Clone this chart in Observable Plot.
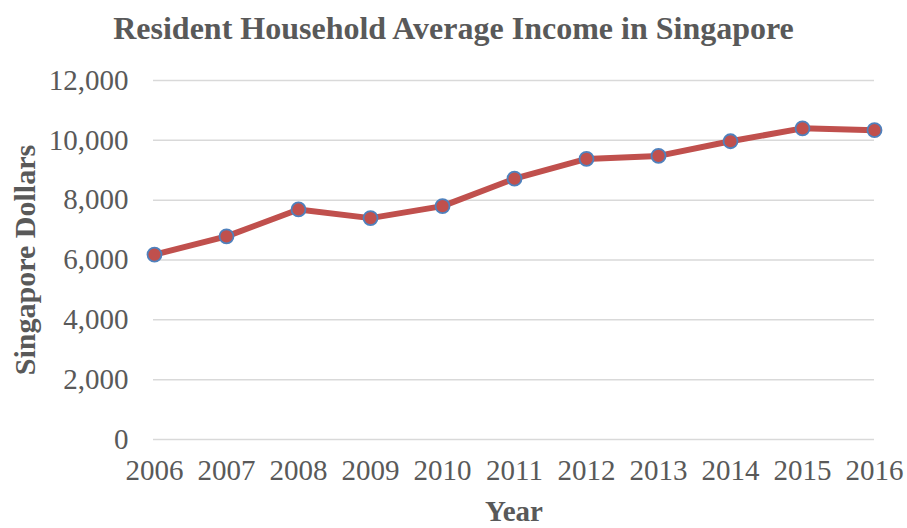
<!DOCTYPE html>
<html>
<head>
<meta charset="utf-8">
<script src="https://cdn.jsdelivr.net/npm/d3@7"></script>
<script src="https://cdn.jsdelivr.net/npm/@observablehq/plot@0.6"></script>
<style>
  html, body { margin: 0; padding: 0; background: #fff; }
  #title { height: 60px; line-height: 57px; text-align: center; font-family: "Liberation Serif", serif; font-weight: bold; font-size: 32px; color: #595959; width: 907px; white-space: nowrap; }
  #chart svg { display: block; }
</style>
</head>
<body>
<div id="title">Resident Household Average Income in Singapore</div>
<div id="chart"></div>
<script>
const years = [2006, 2007, 2008, 2009, 2010, 2011, 2012, 2013, 2014, 2015, 2016];
const income = [6180, 6790, 7690, 7400, 7800, 8720, 9380, 9480, 9970, 10400, 10340];
const yTicks = [0, 2000, 4000, 6000, 8000, 10000, 12000];
const xLabel = "Year";
const yLabel = "Singapore Dollars";

const data = years.map((y, i) => ({year: y, value: income[i]}));
const fontFamily = "Liberation Serif, serif";

const chart = Plot.plot({
  width: 907,
  height: 468,
  marginTop: 20,
  marginBottom: 89,
  marginLeft: 153,
  marginRight: 33,
  style: {fontFamily, fontSize: "29px", color: "#595959", background: "#fff"},
  x: {type: "point", domain: years, padding: 0},
  y: {domain: [0, 12000]},
  marks: [
    Plot.gridY(yTicks, {stroke: "#d9d9d9", strokeOpacity: 1, strokeWidth: 1.5}),
    Plot.axisY(yTicks, {
      tickSize: 0, tickPadding: 25, tickFormat: d3.format(","),
      label: null, fontSize: 29
    }),
    Plot.axisX(years, {
      tickSize: 0, tickPadding: 20, tickFormat: d => String(d),
      label: null, fontSize: 29
    }),
    Plot.text([xLabel], {frameAnchor: "bottom", dy: 72, lineAnchor: "middle", textAnchor: "middle", text: d => d, fontWeight: "bold", fontSize: 29, fill: "#595959"}),
    Plot.text([yLabel], {frameAnchor: "left", dx: -128, rotate: -90, lineAnchor: "middle", textAnchor: "middle", text: d => d, fontWeight: "bold", fontSize: 30, fill: "#595959"}),
    Plot.line(data, {x: "year", y: "value", stroke: "#c0504d", strokeWidth: 6, strokeLinejoin: "round"}),
    Plot.dot(data, {x: "year", y: "value", r: 7, fill: "#c0504d", stroke: "#4f81bd", strokeWidth: 1.8})
  ]
});
document.getElementById("chart").append(chart);
</script>
</body>
</html>
